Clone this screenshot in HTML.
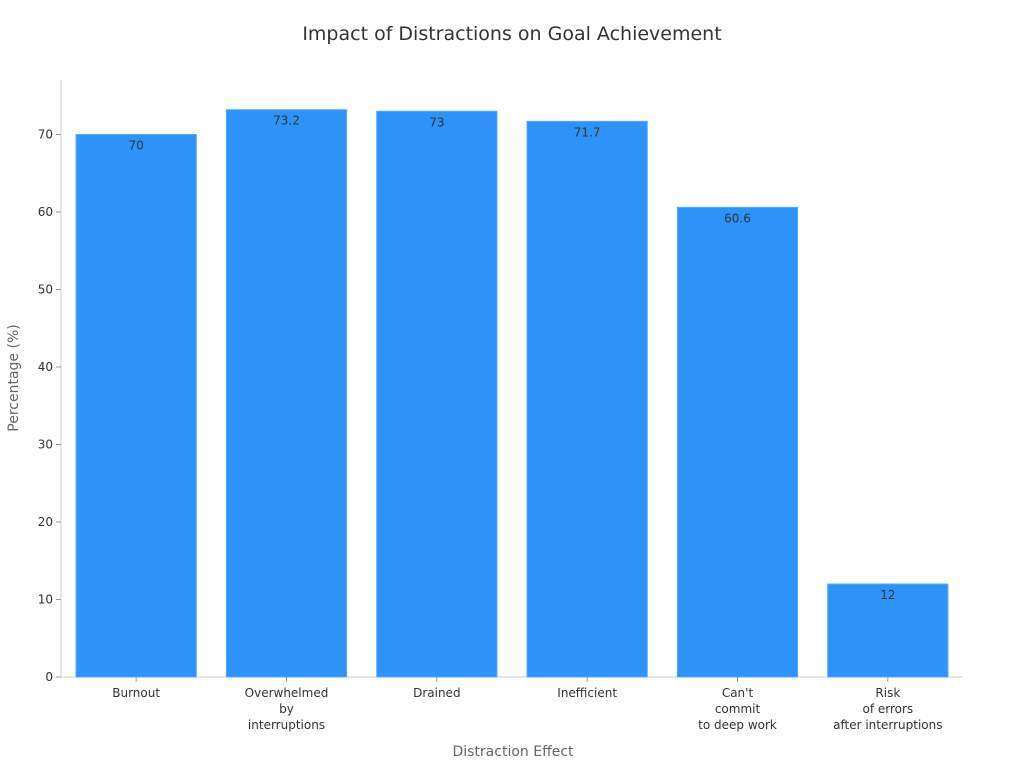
<!DOCTYPE html>
<html><head><meta charset="utf-8"><style>
body{margin:0;background:#fff;}
svg text{font-family:"DejaVu Sans","Liberation Sans",sans-serif;}
</style></head><body>
<svg width="1024" height="768" xmlns="http://www.w3.org/2000/svg">
<text x="512" y="40" text-anchor="middle" font-size="19" fill="#333">Impact of Distractions on Goal Achievement</text>
<g id="axes"></g>
<g id="bars"></g>
<text x="513" y="756" text-anchor="middle" font-size="14" fill="#666">Distraction Effect</text>
<text transform="translate(18,378) rotate(-90)" text-anchor="middle" font-size="14" fill="#666">Percentage (%)</text>
</svg>
<script>
const categories=[["Burnout"],["Overwhelmed","by","interruptions"],["Drained"],["Inefficient"],["Can't","commit","to deep work"],["Risk","of errors","after interruptions"]];
const values=[70,73.2,73,71.7,60.6,12];
const yTicks=[0,10,20,30,40,50,60,70];
const NS="http://www.w3.org/2000/svg";
const x0=61,x1=963,yBase=677,pxPerUnit=7.75;
const band=(x1-x0)/categories.length;
const y=v=>yBase-v*pxPerUnit;
const xc=i=>x0+band*(i+0.5);
function mk(tag,attrs,parent){const e=document.createElementNS(NS,tag);for(const k in attrs)e.setAttribute(k,attrs[k]);parent.appendChild(e);return e;}
const axes=document.getElementById('axes'),bars=document.getElementById('bars');
let l=mk('line',{x1:x0,y1:80,x2:x0,y2:yBase,stroke:'#ccc'},axes);


l=mk('line',{x1:x0,y1:yBase,x2:x1,y2:yBase,stroke:'#ccc'},axes);


yTicks.forEach(t=>{
 const tk=mk('line',{x1:x0-5,y1:y(t),x2:x0,y2:y(t),stroke:'#999'},axes);
 
 
 const tx=mk('text',{x:x0-8,y:y(t)+4,'text-anchor':'end','font-size':12,fill:'#333'},axes);
 tx.textContent=t;
 
 
});
const bw=band*0.8;
values.forEach((v,i)=>{
 const r=mk('rect',{x:xc(i)-bw/2,y:y(v),width:bw,height:yBase-y(v),fill:'#2e93f8',stroke:'#5aaaf5','stroke-width':1},bars);
 
 
 const lb=mk('text',{x:xc(i),y:y(v)+15,'text-anchor':'middle','font-size':12,fill:'#333'},bars);
 lb.textContent=v;
 
 
 const tk=mk('line',{x1:xc(i),y1:yBase,x2:xc(i),y2:yBase+5,stroke:'#999'},axes);
 
 
 const tx=mk('text',{x:xc(i),y:yBase+20,'text-anchor':'middle','font-size':12,fill:'#333'},axes);
 
 
 categories[i].forEach((s,j)=>{const ts=mk('tspan',{x:xc(i),dy:j?16:0},tx);ts.textContent=s;});
});
</script>
</body></html>
